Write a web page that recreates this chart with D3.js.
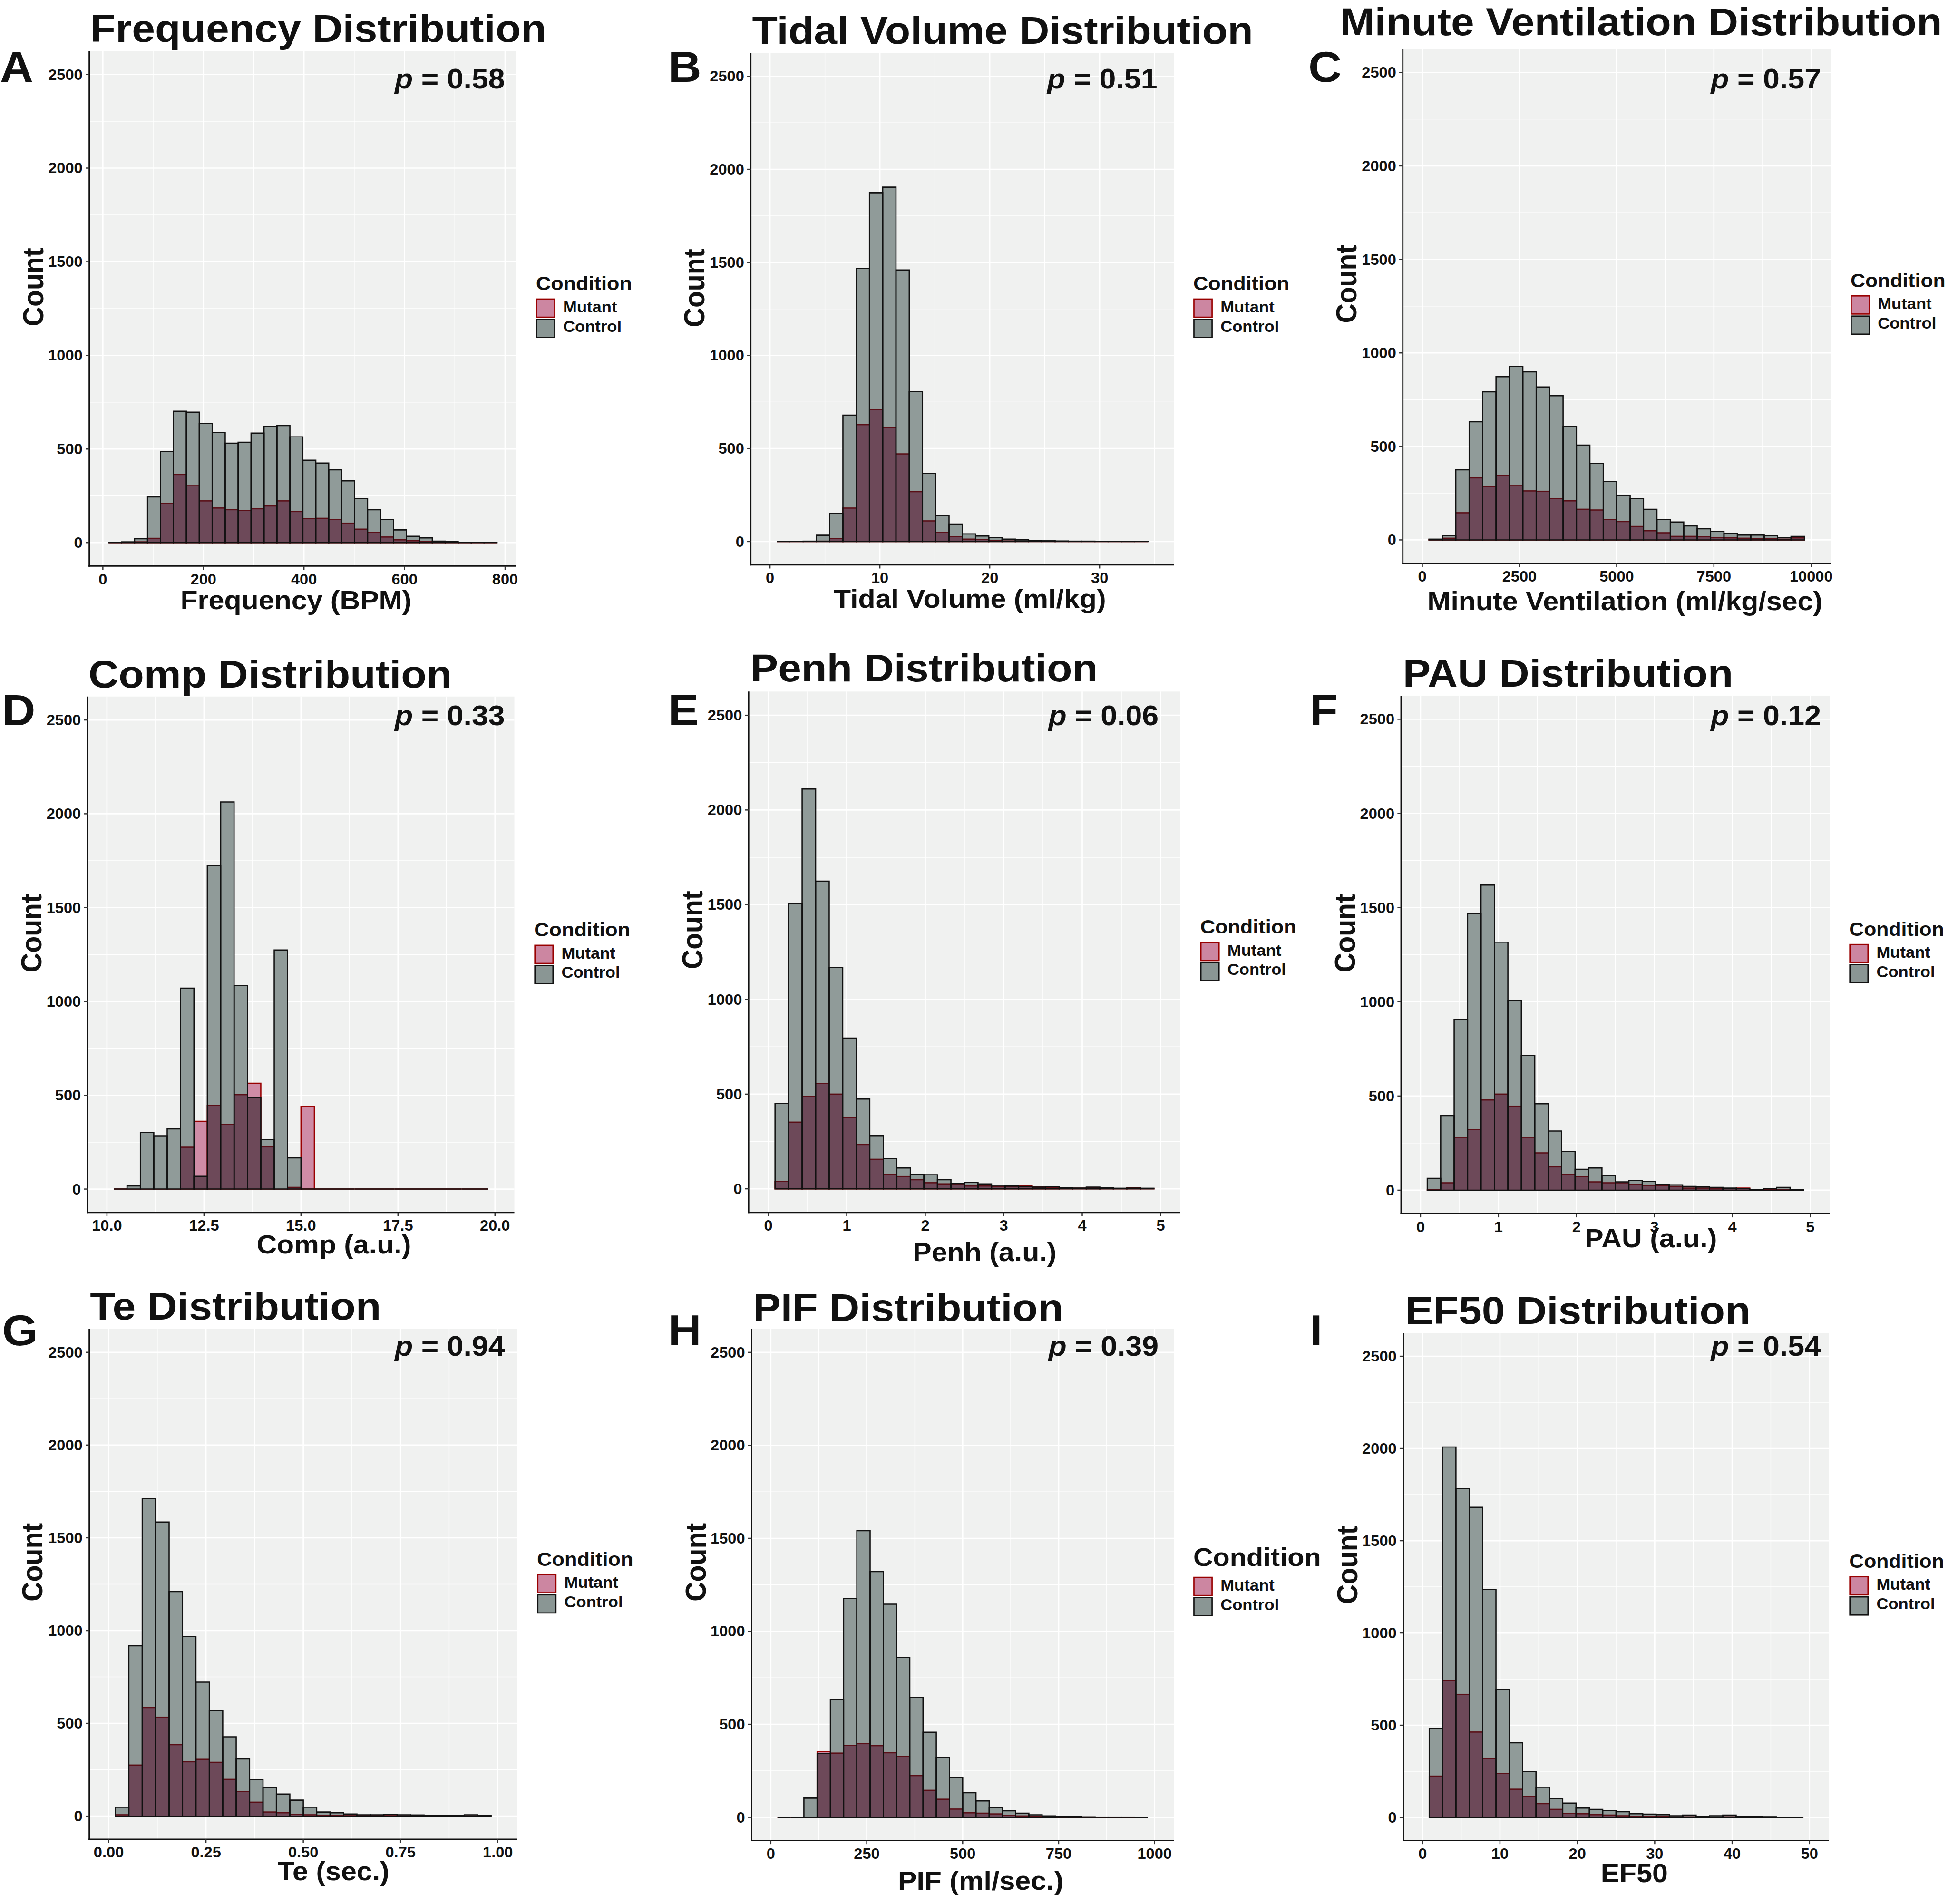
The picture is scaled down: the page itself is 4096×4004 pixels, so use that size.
<!DOCTYPE html>
<html><head><meta charset="utf-8">
<script src="https://cdn.jsdelivr.net/npm/d3@7"></script>
<style>html,body{margin:0;padding:0;background:#fff;} svg{display:block}</style>
</head><body>
<script>
// ---------------- DATA ----------------
const panelIds = ["A","B","C","D","E","F","G","H","I"];
const titles = ["Frequency Distribution","Tidal Volume Distribution","Minute Ventilation Distribution","Comp Distribution","Penh Distribution","PAU Distribution","Te Distribution","PIF Distribution","EF50 Distribution"];
const xAxisTitles = ["Frequency (BPM)","Tidal Volume (ml/kg)","Minute Ventilation (ml/kg/sec)","Comp (a.u.)","Penh (a.u.)","PAU (a.u.)","Te (sec.)","PIF (ml/sec.)","EF50"];
const yAxisTitle = "Count";
const pValues = ["0.58","0.51","0.57","0.33","0.06","0.12","0.94","0.39","0.54"];
const legendTitle = "Condition";
const groupNames = ["Mutant","Control"];
const xLimits = [[11.5,784],[0,35],[0,10000],[10,20],[0,5],[0,5],[0,1],[0,1000],[0,50]];
const binLo = [11.5,0.6034,172.4,10.1724,0.0862,0.0862,0.01724,17.24,0.862];
const binHi = [784,34.397,9827.6,19.8276,4.9138,4.9138,0.98276,982.76,49.138];
const xTickValues = [[0,200,400,600,800],[0,10,20,30],[0,2500,5000,7500,10000],[10,12.5,15,17.5,20],[0,1,2,3,4,5],[0,1,2,3,4,5],[0,0.25,0.5,0.75,1],[0,250,500,750,1000],[0,10,20,30,40,50]];
const xTickLabels = [["0","200","400","600","800"],["0","10","20","30"],["0","2500","5000","7500","10000"],["10.0","12.5","15.0","17.5","20.0"],["0","1","2","3","4","5"],["0","1","2","3","4","5"],["0.00","0.25","0.50","0.75","1.00"],["0","250","500","750","1000"],["0","10","20","30","40","50"]];
const yTickValues = [0,500,1000,1500,2000,2500];
const yLimits = [0,2500];

const controlA = [1,4,21,244,487,702,697,636,589,531,536,585,621,625,565,440,425,389,330,236,176,123,68,34,25,8,5,2,1,1];
const mutantA  = [0,1,4,23,210,364,304,223,185,176,172,181,196,223,166,128,130,123,104,72,55,30,15,10,6,3,2,1,0,0];
const controlB = [0,1,2,34,152,679,1467,1874,1904,1459,805,366,139,94,41,30,21,13,9,5,4,3,2,2,1,1,0,1];
const mutantB  = [0,0,0,2,17,180,628,709,613,471,268,111,49,26,13,11,5,3,2,1,1,1,0,0,0,0,0,0];
const controlC = [4,23,375,632,792,873,928,899,818,771,607,507,409,313,236,221,164,109,96,75,60,45,34,26,26,23,13,19];
const mutantC  = [2,9,145,332,285,345,290,262,260,221,209,164,160,109,98,72,49,38,19,19,17,13,11,9,6,6,4,11];
const controlD = [0,17,301,284,321,1071,68,1724,2063,1084,487,264,1274,166,0,0,0,0,0,0,0,0,0,0,0,0,0,0];
const mutantD  = [0,0,0,0,0,223,361,446,345,503,564,225,0,9,441,0,0,0,0,0,0,0,0,0,0,0,0,0];
const controlE = [450,1505,2111,1624,1168,796,474,281,160,110,76,74,48,28,35,26,19,15,13,9,11,6,4,9,5,3,4,3];
const mutantE  = [39,352,489,556,500,376,234,156,76,65,48,32,26,22,15,15,13,11,15,9,8,5,3,6,3,2,5,2];
const controlF = [63,396,906,1468,1620,1317,1008,716,459,314,205,111,118,78,44,52,46,30,28,20,17,15,11,9,4,9,15,4];
const mutantF  = [4,39,281,322,479,510,446,281,198,124,85,72,44,39,39,30,24,24,20,11,11,7,9,11,3,4,4,2];
const controlG = [48,918,1712,1585,1210,968,722,568,427,308,196,154,119,86,48,22,18,11,7,7,9,7,6,4,4,4,7,3];
const mutantG  = [7,275,585,533,385,293,306,290,198,132,75,22,18,9,7,4,3,2,2,2,2,1,1,1,1,1,1,0];
const controlH = [0,0,103,343,635,1176,1541,1321,1146,860,644,457,323,213,132,88,51,35,22,13,7,4,4,2,1,1,1,0];
const mutantH  = [0,0,0,354,345,387,396,385,347,328,224,145,97,44,24,22,18,11,7,4,2,2,1,1,0,0,0,0];
const controlI = [483,2008,1783,1681,1236,695,405,248,164,102,78,51,44,38,31,20,18,15,9,13,7,9,13,7,6,4,2,2];
const mutantI  = [224,744,667,463,319,239,153,115,75,44,22,20,15,13,9,7,5,5,3,3,2,2,3,2,1,1,1,1];

const controlCounts = [controlA,controlB,controlC,controlD,controlE,controlF,controlG,controlH,controlI];
const mutantCounts  = [mutantA,mutantB,mutantC,mutantD,mutantE,mutantF,mutantG,mutantH,mutantI];

// ---------------- LAYOUT (reference pixel space) ----------------
const layout = [
 {panel:[197,112.7,1140,1249.7], title:[199,92.4], letter:[0,180.4], p:[1114.5,195.4], xt:[653.5,1344.8], yt:[95.8,633.8], leg:[1183,640.8], legSize:42.5},
 {panel:[1657.3,117,2591,1247], title:[1660.2,96.8], letter:[1474.6,180.4], p:[2554.7,195.4], xt:[2140.9,1342], yt:[1555,636], leg:[2634,640.8], legSize:42.5},
 {panel:[3096.6,108.3,4040.8,1243.6], title:[2957.8,77.5], letter:[2888,180.4], p:[4019.7,195.4], xt:[3586.8,1346.6], yt:[2994.2,626.7], leg:[4084.8,633.8], legSize:42},
 {panel:[193.3,1537.7,1135.4,2676.9], title:[195.2,1517.7], letter:[4.6,1601], p:[1114.5,1601], xt:[736.9,2767.5], yt:[91.2,2060.2], leg:[1179.2,2067.4], legSize:42.5},
 {panel:[1652.6,1526.8,2605.4,2676.9], title:[1656.4,1504.1], letter:[1474.6,1601], p:[2557.5,1601], xt:[2173.4,2783.8], yt:[1550.2,2053], leg:[2649.4,2061.1], legSize:42.5},
 {panel:[3092.7,1535.8,4038.9,2679.6], title:[3096.6,1515.9], letter:[2890.9,1601], p:[4019.7,1601], xt:[3644.2,2753.9], yt:[2991.3,2060.2], leg:[4081.9,2065.6], legSize:42},
 {panel:[197,2934.2,1141.8,4060.6], title:[198.8,2913.5], letter:[4.6,2970.2], p:[1114.5,2992.8], xt:[736,4150.7], yt:[93.9,3448.8], leg:[1185.6,3456.8], legSize:42.5},
 {panel:[1659.2,2934.2,2591,4063.3], title:[1662.1,2916.2], letter:[1474.6,2970.2], p:[2557.5,2992.8], xt:[2164.8,4171.5], yt:[1557.8,3448.8], leg:[2634,3456.8], legSize:56.5},
 {panel:[3097.5,2943.2,4037,4063.3], title:[3102.3,2922.5], letter:[2890.9,2970.2], p:[4019.7,2992.8], xt:[3607.4,4155.2], yt:[2996.1,3454.6], leg:[4081.9,3461.4], legSize:42}
];

const W = 4096, H = 4004, S = 4096/4300, SX = 1.07;
const FONT = "'Liberation Sans', Arial, Helvetica, sans-serif";
const C = {bg:"#f0f1f0", grey:"#8a9694", pink:"#cc86a1", maroon:"#6b4656", red:"#990000", redDark:"#5a0e16", ink:"#111111"};

const svg = d3.select("body").append("svg").attr("width", W).attr("height", H);
svg.append("rect").attr("width", W).attr("height", H).attr("fill", "#fff");
const root = svg.append("g").attr("transform", `scale(${S})`);

function txt(parent, x, y, str, size, anchor, rotate) {
  const g = parent.append("g").attr("transform", `translate(${x},${y}) scale(${SX},1)` + (rotate ? " rotate(-90)" : ""));
  return g.append("text").attr("text-anchor", anchor).attr("font-family", FONT)
    .attr("font-weight", "bold").attr("font-size", size).attr("fill", C.ink).text(str);
}

panelIds.forEach((id, k) => {
  const L = layout[k];
  const [pl, pt, pr, pb] = L.panel;
  const g = root.append("g");
  const lim = xLimits[k], R = lim[1] - lim[0];
  const x = d3.scaleLinear().domain([lim[0] - 0.05*R, lim[1] + 0.05*R]).range([pl, pr]);
  const yR = yLimits[1] - yLimits[0];
  const y = d3.scaleLinear().domain([yLimits[0] - 0.05*yR, yLimits[1] + 0.05*yR]).range([pb, pt]);

  // panel background
  g.append("rect").attr("x", pl).attr("y", pt).attr("width", pr - pl).attr("height", pb - pt).attr("fill", C.bg);

  // grid
  const xt = xTickValues[k], step = xt[1] - xt[0];
  const dom = x.domain();
  const xMinor = d3.range(-1, xt.length).map(i => xt[0] + (i + 0.5) * step).filter(v => v > dom[0] && v < dom[1]);
  const yMinor = yTickValues.slice(0, -1).map((v, i) => (v + yTickValues[i+1]) / 2);
  g.selectAll(null).data(xMinor).join("line").attr("x1", d => x(d)).attr("x2", d => x(d)).attr("y1", pt).attr("y2", pb)
    .attr("stroke", "#fff").attr("stroke-width", 1.5);
  g.selectAll(null).data(yMinor).join("line").attr("y1", d => y(d)).attr("y2", d => y(d)).attr("x1", pl).attr("x2", pr)
    .attr("stroke", "#fff").attr("stroke-width", 1.5);
  g.selectAll(null).data(xt).join("line").attr("x1", d => x(d)).attr("x2", d => x(d)).attr("y1", pt).attr("y2", pb)
    .attr("stroke", "#fff").attr("stroke-width", 2.8);
  g.selectAll(null).data(yTickValues).join("line").attr("y1", d => y(d)).attr("y2", d => y(d)).attr("x1", pl).attr("x2", pr)
    .attr("stroke", "#fff").attr("stroke-width", 2.8);

  // bins
  const ctrl = controlCounts[k], mut = mutantCounts[k];
  const n = ctrl.length, w = (binHi[k] - binLo[k]) / n;
  const bins = ctrl.map((c, i) => ({x0: binLo[k] + i*w, x1: binLo[k] + (i+1)*w, c: c, m: mut[i]}));
  const barPath = (d, v) => `M${x(d.x0)},${y(0)}V${y(v)}H${x(d.x1)}V${y(0)}Z`;

  g.selectAll(null).data(bins).join("path").attr("d", d => barPath(d, d.m))
    .attr("fill", C.pink).attr("fill-opacity", 0.95).attr("stroke", C.red).attr("stroke-width", 2.7);
  g.selectAll(null).data(bins.filter(d => d.c > 0)).join("path").attr("d", d => barPath(d, d.c))
    .attr("fill", C.grey).attr("fill-opacity", 0.95);
  g.selectAll(null).data(bins.filter(d => Math.min(d.c, d.m) > 0)).join("path").attr("d", d => barPath(d, Math.min(d.c, d.m)))
    .attr("fill", C.maroon).attr("fill-opacity", 0.96);
  g.selectAll(null).data(bins.filter(d => d.m > 0 && d.m <= d.c)).join("line")
    .attr("x1", d => x(d.x0)).attr("x2", d => x(d.x1)).attr("y1", d => y(d.m)).attr("y2", d => y(d.m))
    .attr("stroke", C.redDark).attr("stroke-width", 2.7);
  g.selectAll(null).data(bins).join("path").attr("d", d => barPath(d, d.c))
    .attr("fill", "none").attr("stroke", C.ink).attr("stroke-width", 2.7).attr("stroke-linejoin", "miter");

  // axes lines
  g.append("line").attr("x1", pl).attr("x2", pl).attr("y1", pt).attr("y2", pb + 1.5).attr("stroke", C.ink).attr("stroke-width", 3);
  g.append("line").attr("x1", pl - 1.5).attr("x2", pr).attr("y1", pb).attr("y2", pb).attr("stroke", C.ink).attr("stroke-width", 3);

  // ticks
  g.selectAll(null).data(yTickValues).join("line").attr("x1", pl - 8).attr("x2", pl).attr("y1", d => y(d)).attr("y2", d => y(d))
    .attr("stroke", "#333").attr("stroke-width", 2.6);
  g.selectAll(null).data(xt).join("line").attr("y1", pb).attr("y2", pb + 8).attr("x1", d => x(d)).attr("x2", d => x(d))
    .attr("stroke", "#333").attr("stroke-width", 2.6);
  yTickValues.forEach(v => txt(g, pl - 14.6, y(v) + 11.5, String(v), 32, "end"));
  xt.forEach((v, i) => txt(g, x(v), pb + 40, xTickLabels[k][i], 32, "middle"));

  // texts
  txt(g, L.title[0], L.title[1], titles[k], 86, "start");
  txt(g, L.letter[0], L.letter[1], id, 95, "start");
  const pt2 = txt(g, L.p[0], L.p[1], "", 61.5, "end");
  pt2.append("tspan").attr("font-style", "italic").text("p");
  pt2.append("tspan").text(" = " + pValues[k]);
  txt(g, L.xt[0], L.xt[1], xAxisTitles[k], 58, "middle");
  txt(g, L.yt[0], L.yt[1], yAxisTitle, 60, "middle", true);

  // legend
  const [lx, ly] = L.leg;
  txt(g, lx, ly, legendTitle, L.legSize, "start");
  const off = L.legSize > 50 ? 6 : 0;
  const keyFill = [C.pink, C.grey], keyStroke = [C.red, C.ink];
  groupNames.forEach((nm, i) => {
    g.append("rect").attr("x", lx + 1.5).attr("y", ly + off + 19.5 + i*44.5).attr("width", 40).attr("height", 40)
      .attr("fill", keyFill[i]).attr("stroke", keyStroke[i]).attr("stroke-width", 2.8);
    txt(g, lx + 60, ly + off + 48.5 + i*43, nm, 34, "start");
  });
});
</script>
</body></html>
